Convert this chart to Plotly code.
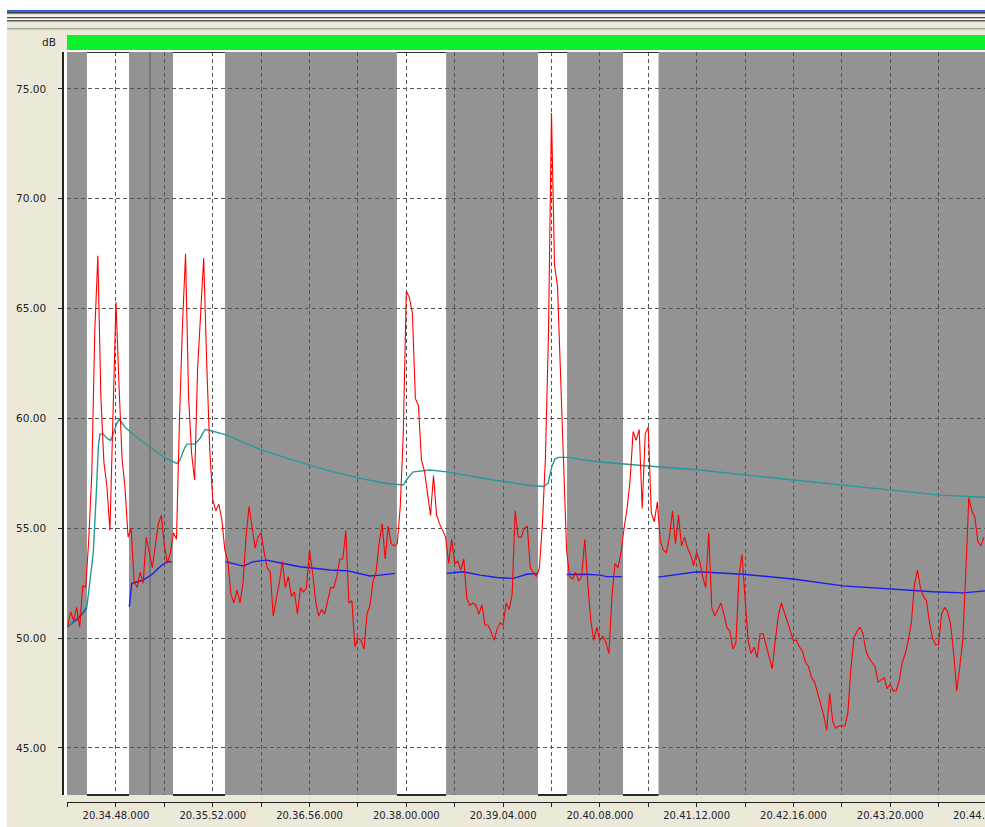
import pandas as pd
import plotly.graph_objects as go

# ---------------- data (seconds are offsets from 20:34:48) ----------------
BASE = pd.Timestamp("2024-01-01 20:34:48")

# short Leq, one value every 2 s
RED_START_S = -32
RED_STEP_S = 2
RED_DB = [
    50.5, 51.2, 50.8, 51.4, 50.5, 52.4, 52.3, 54.5, 57.5, 64.0,
    67.4, 61.0, 58.0, 56.9, 54.9, 60.0, 65.3, 61.5, 58.2, 56.8,
    54.6, 55.0, 52.6, 52.3, 53.0, 52.5, 54.6, 53.9, 53.2, 54.2,
    55.2, 55.6, 54.2, 53.4, 53.9, 54.8, 54.5, 60.0, 64.3, 67.5,
    61.0, 58.4, 57.2, 62.3, 65.0, 67.3, 62.5, 58.6, 56.3, 55.8,
    56.1, 55.4, 54.0, 53.5, 52.0, 51.6, 52.2, 51.6, 52.5, 54.6,
    56.0, 55.0, 54.1, 54.6, 54.8, 53.9, 53.2, 53.0, 51.0, 51.8,
    52.5, 53.5, 52.3, 52.8, 51.9, 52.1, 51.1, 52.3, 52.1, 52.3,
    54.0, 53.0, 51.7, 51.0, 51.3, 51.1, 51.7, 52.3, 52.3, 52.8,
    53.6, 53.6, 54.9, 51.6, 51.7, 49.6, 50.0, 49.9, 49.5, 51.1,
    51.5, 52.6, 53.0, 54.3, 55.2, 53.6, 55.1, 54.3, 54.2, 54.3,
    56.0, 59.3, 65.8, 65.5, 64.8, 60.9, 60.6, 58.1, 57.6, 56.6,
    55.6, 57.4, 55.6, 55.2, 54.9, 54.6, 53.4, 54.5, 53.4, 53.5,
    53.1, 53.6, 51.8, 51.5, 51.6, 51.5, 51.1, 51.5, 50.6, 50.6,
    50.3, 49.9, 50.4, 50.7, 50.6, 51.6, 51.3, 52.0, 55.8, 54.6,
    54.6, 55.0, 55.1, 53.2, 53.0, 52.8, 53.2, 55.2, 58.2, 63.8,
    73.9, 67.0, 66.0, 61.8, 57.8, 54.0, 52.8, 52.7, 53.0, 52.6,
    52.8, 54.5, 52.5, 50.8, 49.9, 50.5, 49.9, 50.1, 49.8, 49.3,
    51.9, 53.4, 53.2, 53.9, 55.0, 55.9, 57.2, 59.4, 59.0, 59.5,
    55.9, 59.3, 59.6, 55.7, 55.3, 56.2, 54.4, 54.0, 53.9, 54.6,
    55.8, 54.3, 55.6, 54.2, 54.6, 54.1, 53.8, 53.3, 53.9, 53.5,
    52.8, 52.3, 54.8, 51.4, 51.0, 51.3, 51.6, 51.1, 50.5, 50.3,
    49.5, 49.8, 52.8, 53.8, 52.0, 49.9, 49.3, 49.6, 49.1, 50.2,
    50.2, 49.7, 49.1, 48.6, 49.9, 51.0, 51.6, 51.2, 50.7, 50.3,
    49.9, 49.9, 49.6, 49.4, 48.9, 48.7, 48.2, 48.0, 47.5, 47.0,
    46.5, 45.8, 47.5, 46.2, 45.9, 46.0, 46.0, 46.0, 46.6, 48.6,
    50.0, 50.3, 50.5, 50.2, 49.4, 49.1, 48.9, 48.7, 48.0, 48.1,
    48.2, 47.7, 47.9, 47.6, 47.6, 48.1, 48.9, 49.3, 49.9, 50.7,
    52.4, 53.1, 52.3, 51.9, 51.7, 50.7, 50.0, 49.7, 49.7, 51.1,
    51.4, 51.2, 50.6, 49.3, 47.6, 48.7, 49.9, 53.0, 56.4, 55.8,
    55.5, 54.4, 54.2, 54.6,
]

# running Leq (teal)
TEAL_S = [-32.4, -27.1, -22.5, -19.2, -17.2, -15.0, -12.8, -11.7, -10.6, -8.6,
          -6.0, -3.5, -1.3, 0.7, 2.2, 6.0, 12.6, 22.5, 32.4, 40.1,
          42.3, 45.0, 46.8, 52.2, 55.6, 58.9, 62.2, 72.8, 95.2, 117.1,
          139.4, 161.4, 179.0, 190.0, 193.1, 196.6, 207.7, 218.7, 249.5, 273.8,
          282.6, 285.7, 288.2, 290.3, 292.5, 298.1, 319.0, 357.6, 386.2, 417.1,
          447.9, 481.0, 511.9, 545.0, 574.7]
TEAL_DB = [50.5, 50.85, 51.15, 51.45, 52.5, 53.9, 56.9, 58.7, 59.3, 59.3,
           59.1, 59.0, 59.4, 59.8, 59.96, 59.6, 59.2, 58.71, 58.2, 57.95,
           58.1, 58.6, 58.83, 58.83, 59.1, 59.5, 59.45, 59.25, 58.59, 58.1,
           57.65, 57.27, 57.04, 56.97, 57.3, 57.57, 57.65, 57.57, 57.2, 56.95,
           56.9, 57.05, 57.8, 58.15, 58.23, 58.23, 58.03, 57.8, 57.65, 57.42,
           57.2, 56.94, 56.74, 56.51, 56.41]

# running Leq without the marked periods (blue), None = gap
BLUE_S = [-32.4, -29.1, -25.1, -21.8, -19.2, None,
          8.8, 10.4, 18.1, 24.7, 29.1, 33.5, 36.8, None,
          72.4, 77.6, 84.2, 90.8, 99.7, 110.6, 121.7, 132.7, 141.5, 152.6,
          161.4, 168.0, 174.6, 184.5, None,
          218.7, 229.7, 240.7, 251.8, 262.8, 271.6, 279.3, None,
          298.1, 311.3, 320.1, 324.5, 334.5, None,
          358.7, 384.3, 414.7, 447.8, 480.8, 513.9, 540.3, 560.2, 574.7]
BLUE_DB = [50.5, 50.7, 50.9, 51.15, 51.4, None,
           51.43, 52.5, 52.64, 52.95, 53.25, 53.48, 53.48, None,
           53.48, 53.4, 53.28, 53.48, 53.55, 53.4, 53.25, 53.17, 53.1, 53.07,
           52.95, 52.83, 52.87, 52.95, None,
           52.95, 53.02, 52.87, 52.76, 52.72, 52.91, 52.95, None,
           52.9, 52.91, 52.87, 52.8, 52.8, None,
           52.78, 53.02, 52.91, 52.69, 52.38, 52.23, 52.11, 52.06, 52.15]

# marked (white) periods and the marker line
BANDS_S = [(-19.2, 8.6), (37.7, 72.1), (185.8, 218.3), (279.1, 298.3), (335.3, 358.8)]
MARKER_S = [22.5]

Y_TICKS = [45, 50, 55, 60, 65, 70, 75]
X_RANGE_S = (-32.4, 574.7)
Y_RANGE = (42.86, 76.68)
# last time label sits just past the right edge and is cut by the window
EDGE_LABEL_S = 576

# ---------------- layout geometry ----------------
W, H = 985, 827
ML, MT, MB = 63, 52, 25
PW, PH = W - ML, H - MT - MB
BEIGE = "#ece9d8"
PLOT_GRAY = "#939393"
GRID = "#555555"
FONT = "DejaVu Sans"
TICK_FMT = "%H.%M.%S.%L"


def t(s):
    return None if s is None else BASE + pd.Timedelta(seconds=s)


def px_x(px):
    return (px - ML) / PW


def px_y(py):
    return (H - MB - py) / PH


red_x = [t(RED_START_S + i * RED_STEP_S) for i in range(len(RED_DB))]

fig = go.Figure()
fig.add_trace(go.Scatter(x=[t(s) for s in BLUE_S], y=BLUE_DB, mode="lines",
                         line=dict(color="#1c1cf0", width=1.4), hoverinfo="skip"))
fig.add_trace(go.Scatter(x=[t(s) for s in TEAL_S], y=TEAL_DB, mode="lines",
                         line=dict(color="#239a9a", width=1.4), hoverinfo="skip"))
fig.add_trace(go.Scatter(x=red_x, y=RED_DB, mode="lines",
                         line=dict(color="#ff0000", width=1.1), hoverinfo="skip"))

shapes = []
for a, b in BANDS_S:
    shapes.append(dict(type="rect", xref="x", yref="y domain", x0=t(a), x1=t(b), y0=0, y1=1,
                       fillcolor="white", line=dict(width=0), layer="below"))
    for yy in (0, 1):
        shapes.append(dict(type="line", xref="x", yref="y domain", x0=t(a), x1=t(b), y0=yy, y1=yy,
                           line=dict(color="#2b2b2b", width=2), layer="above"))
for m in MARKER_S:
    shapes.append(dict(type="line", xref="x", yref="y domain", x0=t(m), x1=t(m), y0=0, y1=1,
                       line=dict(color="#6e6e6e", width=1.5), layer="below"))

# window chrome / frame around the plot (pixel boxes)
chrome = [
    (0, W, 0, 10, "white"),
    (0, 7, 0, H, "white"),
    (7, W, 10, 11.5, "#2a5bd7"),
    (7, W, 11.5, 13, "#3a3a3a"),
    (7, W, 13, 14.5, "#8a8a8a"),
    (7, W, 14.5, 17, "#f6f4ee"),
    (7, W, 17, 18.5, "#4a4a4a"),
    (7, W, 18.5, 20, "#f6f4ee"),
    (7, W, 20, 21.5, "#5a5a5a"),
    (7, W, 28, 29.5, "#a9a79f"),
    (67, W, 35, 50, "#0cf02c"),
    (63, W, 50, 52, "white"),
    (64, 67, 52, 795, "white"),
]
for x0, x1, y0, y1, c in chrome:
    shapes.append(dict(type="rect", xref="paper", yref="paper",
                       x0=px_x(x0), x1=px_x(x1), y0=px_y(y1), y1=px_y(y0),
                       fillcolor=c, line=dict(width=0), layer="above"))

# x position of the edge label in paper units (same time scale as the axis)
x_dom0 = px_x(67)
edge_frac = (EDGE_LABEL_S - X_RANGE_S[0]) / (X_RANGE_S[1] - X_RANGE_S[0])
edge_x = x_dom0 + edge_frac * (1 - x_dom0)

fig.update_layout(
    width=W, height=H,
    margin=dict(l=ML, r=0, t=MT, b=MB, pad=0),
    paper_bgcolor=BEIGE,
    plot_bgcolor=PLOT_GRAY,
    showlegend=False,
    shapes=shapes,
    font=dict(family=FONT, size=10, color="#222222"),
    annotations=[
        dict(text="dB", xref="paper", yref="paper", x=px_x(58), y=px_y(42),
             xanchor="right", yanchor="middle", showarrow=False,
             font=dict(family=FONT, size=10.5, color="#222222")),
        dict(text=t(EDGE_LABEL_S).strftime("%H.%M.%S.") + "000", xref="paper", yref="paper",
             x=edge_x, y=px_y(815), xanchor="center", yanchor="middle", showarrow=False,
             font=dict(family=FONT, size=10, color="#1e2233")),
    ],
)

fig.update_xaxes(
    type="date", range=[t(X_RANGE_S[0]), t(X_RANGE_S[1])],
    domain=[x_dom0, 1], anchor="free", position=0,
    tick0=BASE, dtick=64000, tickformat=TICK_FMT,
    showgrid=True, gridcolor=GRID, gridwidth=1, griddash="4px,3px",
    ticks="outside", ticklen=4, tickcolor="#222222",
    minor=dict(tick0=BASE, dtick=32000, showgrid=True, gridcolor=GRID, gridwidth=1,
               griddash="4px,3px", ticks="outside", ticklen=4, tickcolor="#222222"),
    showline=True, linecolor="#222222", linewidth=1,
    zeroline=False, tickfont=dict(size=10, color="#1e2233"),
)
fig.update_yaxes(
    range=list(Y_RANGE), domain=[px_y(795), 1], anchor="free", position=0,
    tickvals=Y_TICKS, tickformat=".2f",
    showgrid=True, gridcolor=GRID, gridwidth=1, griddash="4px,3px",
    ticks="outside", ticklen=4, tickcolor="#222222", ticklabelstandoff=10,
    showline=True, linecolor="#222222", linewidth=1.5,
    zeroline=False, tickfont=dict(size=10.5, color="#222222"),
)

fig.write_html("out.html", config={"displayModeBar": False},
               post_script="document.body.style.margin='0';document.body.style.overflow='hidden';")
